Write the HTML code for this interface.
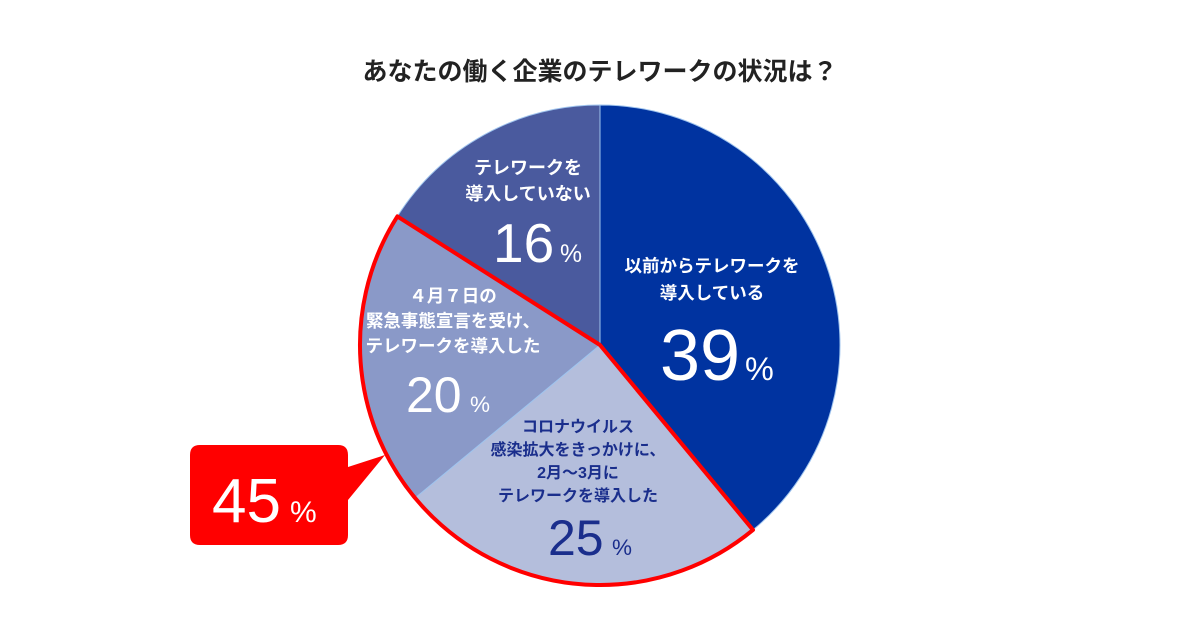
<!DOCTYPE html>
<html><head><meta charset="utf-8"><style>
html,body{margin:0;padding:0;background:#fff;width:1200px;height:630px;overflow:hidden}
svg text{font-family:"Liberation Sans","Noto Sans CJK JP",sans-serif}
</style></head><body>
<svg id="chart" width="1200" height="630" viewBox="0 0 1200 630">
<text x="600" y="80" text-anchor="middle" font-size="25" font-weight="bold" fill="#222">あなたの働く企業のテレワークの状況は？</text>
<g id="slices"></g>
<g id="labels"></g>
<g>
<path d="M200,445 H338 Q348,445 348,455 V467 L385,455 L348,500 V535 Q348,545 338,545 H200 Q190,545 190,535 V455 Q190,445 200,445 Z" fill="#ff0000"/>
<text x="212" y="522" font-size="62" fill="#fff">45</text>
<text x="290" y="522" font-size="30" fill="#fff">%</text>
</g>
</svg>
<script>
const categories=["以前からテレワークを導入している","コロナウイルス感染拡大をきっかけに、2月〜3月にテレワークを導入した","4月7日の緊急事態宣言を受け、テレワークを導入した","テレワークを導入していない"];
const values=[39,25,20,16];
const colors=["#0033a0","#b4bedc","#8a99c8","#4a5a9e"];
const cx=600,cy=345,r=240;
const ns="http://www.w3.org/2000/svg";
const total=values.reduce((a,b)=>a+b,0);
function pt(frac,rad){const a=frac*2*Math.PI;return [cx+rad*Math.sin(a),cy-rad*Math.cos(a)];}
const g=document.getElementById('slices');
let acc=0;const starts=[];
values.forEach((v,i)=>{
 const s=acc/total,e=(acc+v)/total;starts.push([s,e]);acc+=v;
 const p0=pt(s,r),p1=pt(e,r);const large=(e-s)>0.5?1:0;
 const p=document.createElementNS(ns,'path');
 p.setAttribute('d',`M${cx},${cy} L${p0[0]},${p0[1]} A${r},${r} 0 ${large} 1 ${p1[0]},${p1[1]} Z`);
 p.setAttribute('fill',colors[i]);
 p.setAttribute('stroke','#9fc4ee');p.setAttribute('stroke-width','1');
 
 
 g.appendChild(p);
});
{const s=starts[1][0],e=starts[2][1];const p0=pt(s,r),p1=pt(e,r);
 const p=document.createElementNS(ns,'path');
 p.setAttribute('d',`M${cx},${cy} L${p0[0]},${p0[1]} A${r},${r} 0 0 1 ${p1[0]},${p1[1]} Z`);
 p.setAttribute('fill','none');p.setAttribute('stroke','#ff0000');p.setAttribute('stroke-width','4');p.setAttribute('stroke-linejoin','round');
 
 
 g.appendChild(p);}
const labelLines=[["以前からテレワークを","導入している"],["コロナウイルス","感染拡大をきっかけに、","2月〜3月に","テレワークを導入した"],["４月７日の","緊急事態宣言を受け、","テレワークを導入した"],["テレワークを","導入していない"]];
// [centerX, firstLineY, lineStep, fontSize, numX, numY, numSize, pctX]
const labelPos=[[712,272,27,17.5,660,380,72,745],[578,432,23,16,548,555,50,612],[453,302,25,17.5,406,412,50,470],[528,174,26,18,493,262,55,560]];
const textColors=["#fff","#1a2e8c","#fff","#fff"];
const lg=document.getElementById('labels');
values.forEach((v,i)=>{
 const [x,y,step,fs,nx,ny,ns2,px]=labelPos[i];
 labelLines[i].forEach((ln,j)=>{
  const t=document.createElementNS(ns,'text');
  t.setAttribute('x',x);t.setAttribute('y',y+j*step);t.setAttribute('text-anchor','middle');
  t.setAttribute('font-size',fs);t.setAttribute('font-weight','bold');t.setAttribute('fill',textColors[i]);
  t.textContent=ln;
  
  
  lg.appendChild(t);
 });
 const t=document.createElementNS(ns,'text');
 t.setAttribute('x',nx);t.setAttribute('y',ny);
 t.setAttribute('font-size',ns2);t.setAttribute('fill',textColors[i]);
 t.textContent=v;
 
 
 lg.appendChild(t);
 const pc=document.createElementNS(ns,'text');
 pc.setAttribute('x',px);pc.setAttribute('y',ny);
 pc.setAttribute('font-size',ns2*0.45);pc.setAttribute('fill',textColors[i]);
 pc.textContent='%';
 
 
 lg.appendChild(pc);
});
</script>
</body></html>
